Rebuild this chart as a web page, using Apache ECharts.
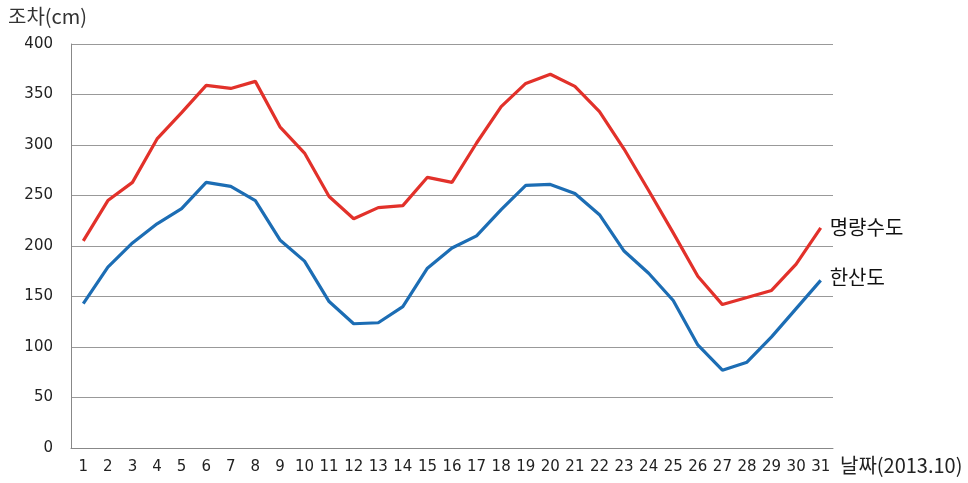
<!DOCTYPE html>
<html>
<head>
<meta charset="utf-8">
<script src="https://cdn.jsdelivr.net/npm/echarts@6/dist/echarts.min.js"></script>
<style>
  html, body { margin: 0; padding: 0; background: #fff; }
  #chart { width: 968px; height: 483px; }
</style>
</head>
<body>
<div id="chart"></div>
<script>
// 날짜 (2013년 10월)
const days = ['1','2','3','4','5','6','7','8','9','10','11','12','13','14','15','16',
  '17','18','19','20','21','22','23','24','25','26','27','28','29','30','31'];
// 명량수도 조차(cm)
const myeongnyang = [205, 245, 263, 306, 332, 359, 356, 363, 318, 292, 249, 227, 238, 240, 268, 263,
  302, 338, 361, 370, 358, 333, 296, 255, 213, 170, 142, 149, 156, 182, 218];
// 한산도 조차(cm)
const hansando = [143, 179, 203, 222, 237, 263, 259, 245, 206, 185, 145, 123, 124, 140, 178, 198,
  210, 236, 260, 261, 252, 231, 195, 173, 146, 102, 77, 85, 110, 138, 166];
const yTicks = [0, 50, 100, 150, 200, 250, 300, 350, 400];

const chart = echarts.init(document.getElementById('chart'));

function lineSeries(name, data, color, offsetY) {
  return {
    name: name,
    type: 'line',
    data: data,
    symbol: 'none',
    animation: false,
    lineStyle: { color: color, width: 3.2 },
    itemStyle: { color: color },
    endLabel: {
      show: true,
      formatter: '{a}',
      distance: 9,
      offset: [0, offsetY],
      color: '#111',
      fontSize: 20,
      fontFamily: 'Noto Sans CJK KR'
    }
  };
}

chart.setOption({
  backgroundColor: '#fff',
  grid: { left: 71, right: 135, top: 44, bottom: 35 },
  xAxis: {
    type: 'category',
    data: days,
    boundaryGap: true,
    axisLine: { lineStyle: { color: '#888', width: 1 } },
    axisTick: { show: false },
    axisLabel: { interval: 0, margin: 12, color: '#222', fontSize: 15, fontFamily: 'DejaVu Sans' },
    name: '날짜(2013.10)',
    nameLocation: 'end',
    nameGap: 7,
    nameTextStyle: {
      color: '#222', fontSize: 20, fontFamily: 'Noto Sans CJK KR',
      verticalAlign: 'top', padding: [7, 0, 0, 0]
    }
  },
  yAxis: {
    type: 'value',
    min: yTicks[0],
    max: yTicks[yTicks.length - 1],
    interval: 50,
    axisLine: { show: true, lineStyle: { color: '#888', width: 1 } },
    axisTick: { show: false },
    axisLabel: { margin: 18, color: '#222', fontSize: 15, fontFamily: 'DejaVu Sans' },
    splitLine: { lineStyle: { color: '#999', width: 1 } }
  },
  graphic: [{
    type: 'text',
    left: 8,
    top: 6,
    style: { text: '조차(cm)', fill: '#333', fontSize: 20, fontFamily: 'Noto Sans CJK KR' }
  }],
  series: [
    lineSeries('명량수도', myeongnyang, '#e2312a', 0),
    lineSeries('한산도', hansando, '#1c6db4', -3)
  ]
});
</script>
</body>
</html>
